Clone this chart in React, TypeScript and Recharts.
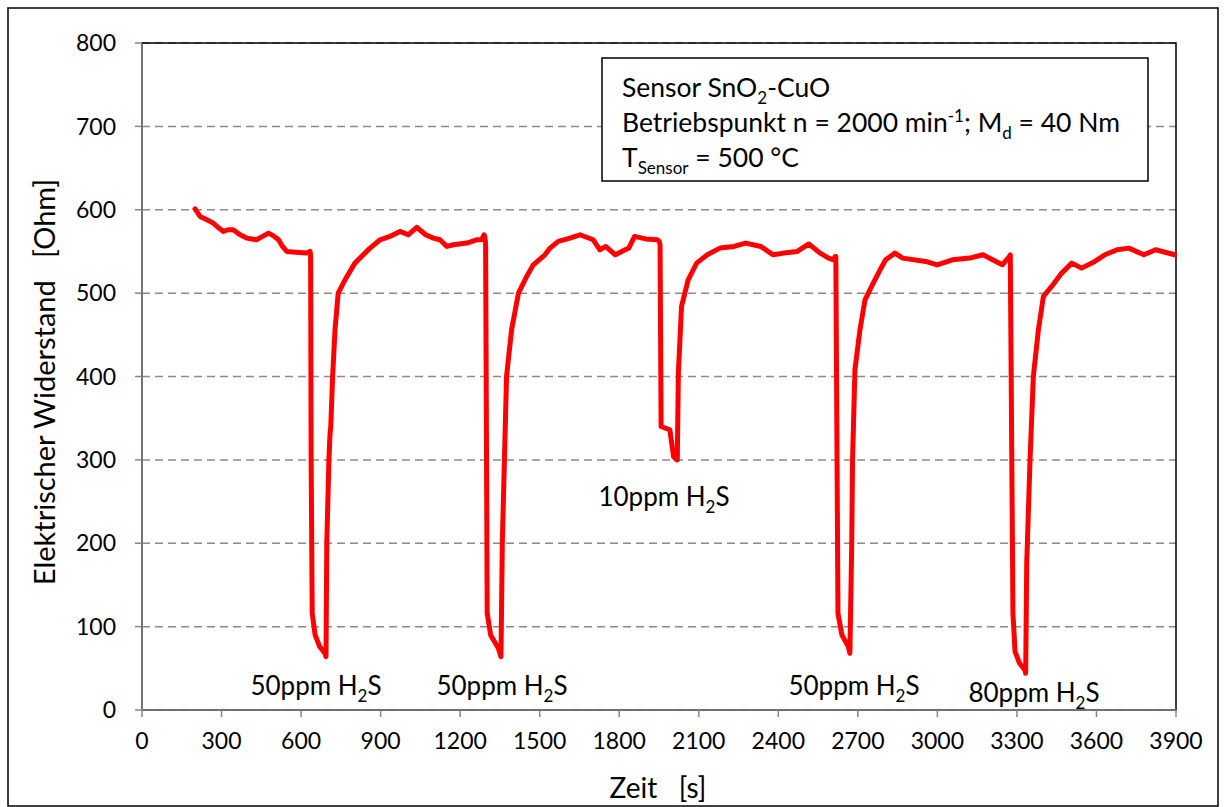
import React from "react"
import { LineChart, Line, XAxis, YAxis, CartesianGrid, ReferenceArea } from "recharts"

// Zeit [s]
const zeit = [
  200, 219, 245, 269, 290, 307, 325, 344, 370, 395, 415, 432, 455, 477, 495, 515, 530, 546, 580, 621, 634,
  636, 638, 642, 653, 670, 690, 694, 697, 705, 709, 712, 719, 728, 740, 766, 803, 860, 898, 935, 973, 1004,
  1036, 1070, 1099, 1124, 1150, 1174, 1225, 1262, 1281, 1290, 1293, 1296, 1302, 1315, 1344, 1354, 1359, 1367,
  1375, 1394, 1420, 1451, 1476, 1520, 1539, 1570, 1614, 1652, 1702, 1727, 1749, 1785, 1836, 1858, 1900, 1944,
  1951, 1954, 1958, 1991, 2005, 2017, 2019, 2023, 2035, 2060, 2092, 2132, 2180, 2233, 2277, 2334, 2380, 2421,
  2472, 2515, 2558, 2590, 2609, 2614, 2617, 2625, 2640, 2664, 2670, 2677, 2680, 2689, 2708, 2727, 2758, 2784,
  2805, 2840, 2869, 2956, 2999, 3057, 3122, 3172, 3245, 3272, 3275, 3285, 3293, 3310, 3330, 3333, 3337, 3349,
  3362, 3381, 3400, 3431, 3469, 3507, 3544, 3594, 3632, 3678, 3722, 3779, 3823, 3895,
]

// Elektrischer Widerstand [Ohm]
const widerstand = [
  601, 592, 588, 584, 578, 574, 576, 576, 570, 566, 565, 564, 568, 572, 569, 564, 556, 550, 549, 548, 550,
  545, 300, 116, 90, 76, 68, 64, 200, 300, 330, 340, 400, 456, 500, 516, 536, 554, 564, 568, 574, 570, 579,
  570, 566, 564, 556, 558, 560, 564, 564, 570, 568, 560, 116, 90, 74, 64, 200, 300, 400,
  456, 500, 520, 534, 546, 554, 562, 566, 570, 564, 552, 556, 546, 554, 568, 565, 564, 562,
  558, 340, 336, 304, 300, 300, 404, 484, 516, 536, 546, 554, 556, 560, 556, 546, 548, 550,
  559, 548, 542, 540, 544, 544, 116, 90, 76, 68, 200, 300, 408, 456, 492, 512, 528, 540,
  548, 542, 538, 534, 540, 542, 546, 534, 544, 546, 116, 70, 56, 48, 44, 176, 296, 400,
  456, 496, 508, 524, 536, 530, 538, 546, 552, 554, 546, 552, 546, 544,
]

const xTicks = [0, 300, 600, 900, 1200, 1500, 1800, 2100, 2400, 2700, 3000, 3300, 3600, 3900]
const yTicks = [0, 100, 200, 300, 400, 500, 600, 700, 800]

// Beschriftungen der H2S-Pulse
const pulseLabels = [
  { ppm: "50ppm H", x: 316, y: 695 },
  { ppm: "50ppm H", x: 502, y: 695 },
  { ppm: "10ppm H", x: 664, y: 506 },
  { ppm: "50ppm H", x: 854, y: 695 },
  { ppm: "80ppm H", x: 1034, y: 702 },
]

const data = zeit.map((t, i) => ({ t, r: widerstand[i] }))

const FONT = "Lato, 'Open Sans', sans-serif"

export default function App() {
  return (
    <div style={{ position: "absolute", left: 0, top: 0, width: 1224, height: 807, background: "#fff", fontFamily: FONT }}>
      <LineChart width={1224} height={807} data={data} margin={{ top: 43, right: 48, bottom: 37, left: 0 }}>
        <CartesianGrid horizontal vertical={false} stroke="#8a8a8a" strokeWidth={1.5} strokeDasharray="8 5" />
        <ReferenceArea x1={0} x2={3900} y1={0} y2={800} fill="none" stroke="#000" strokeWidth={1.5} />
        <XAxis
          type="number"
          dataKey="t"
          domain={[0, 3900]}
          ticks={xTicks}
          interval={0}
          stroke="#868686"
          strokeWidth={1.5}
          tickSize={7}
          tickMargin={16}
          height={60}
          tick={{ fill: "#000", fontSize: 23, fontFamily: FONT }}
        />
        <YAxis
          type="number"
          domain={[0, 800]}
          ticks={yTicks}
          interval={0}
          stroke="#868686"
          strokeWidth={1.5}
          tickSize={7}
          tickMargin={19}
          width={142}
          tick={{ fill: "#000", fontSize: 23, fontFamily: FONT }}
        />
        <Line
          type="linear"
          dataKey="r"
          stroke="#ff0000"
          strokeWidth={5}
          strokeLinejoin="round"
          strokeLinecap="round"
          dot={false}
          isAnimationActive={false}
        />
      </LineChart>
      <svg
        width={1224}
        height={807}
        style={{ position: "absolute", left: 0, top: 0, pointerEvents: "none" }}
        fontFamily={FONT}
      >
        <rect x={8} y={8} width={1210} height={798} fill="none" stroke="#000" strokeWidth={1.5} />
        {pulseLabels.map((p, i) => (
          <text key={i} x={p.x} y={p.y} textAnchor="middle" fontSize={26} fill="#000">
            {p.ppm}
            <tspan dy={7} fontSize={17}>2</tspan>
            <tspan dy={-7}>S</tspan>
          </text>
        ))}
        <rect x={602} y={58} width={546} height={123} fill="#fff" stroke="#000" strokeWidth={1.5} />
        <text x={622} y={97} fontSize={26.5} fill="#000">
          Sensor SnO<tspan dy={7} fontSize={17}>2</tspan>
          <tspan dy={-7}>-CuO</tspan>
        </text>
        <text x={622} y={132} fontSize={26.5} fill="#000">
          Betriebspunkt n = 2000 min<tspan dy={-10} fontSize={17}>-1</tspan>
          <tspan dy={10}>; M</tspan>
          <tspan dy={7} fontSize={17}>d</tspan>
          <tspan dy={-7}> = 40 Nm</tspan>
        </text>
        <text x={622} y={167} fontSize={26.5} fill="#000">
          T<tspan dy={7} fontSize={17}>Sensor</tspan>
          <tspan dy={-7}> = 500 °C</tspan>
        </text>
        <text x={658} y={798} textAnchor="middle" fontSize={28} fill="#000" xmlSpace="preserve">
          Zeit   [s]
        </text>
        <text
          transform="translate(55, 382) rotate(-90)"
          textAnchor="middle"
          fontSize={29}
          fill="#000"
          xmlSpace="preserve"
        >
          Elektrischer Widerstand   [Ohm]
        </text>
      </svg>
    </div>
  )
}
